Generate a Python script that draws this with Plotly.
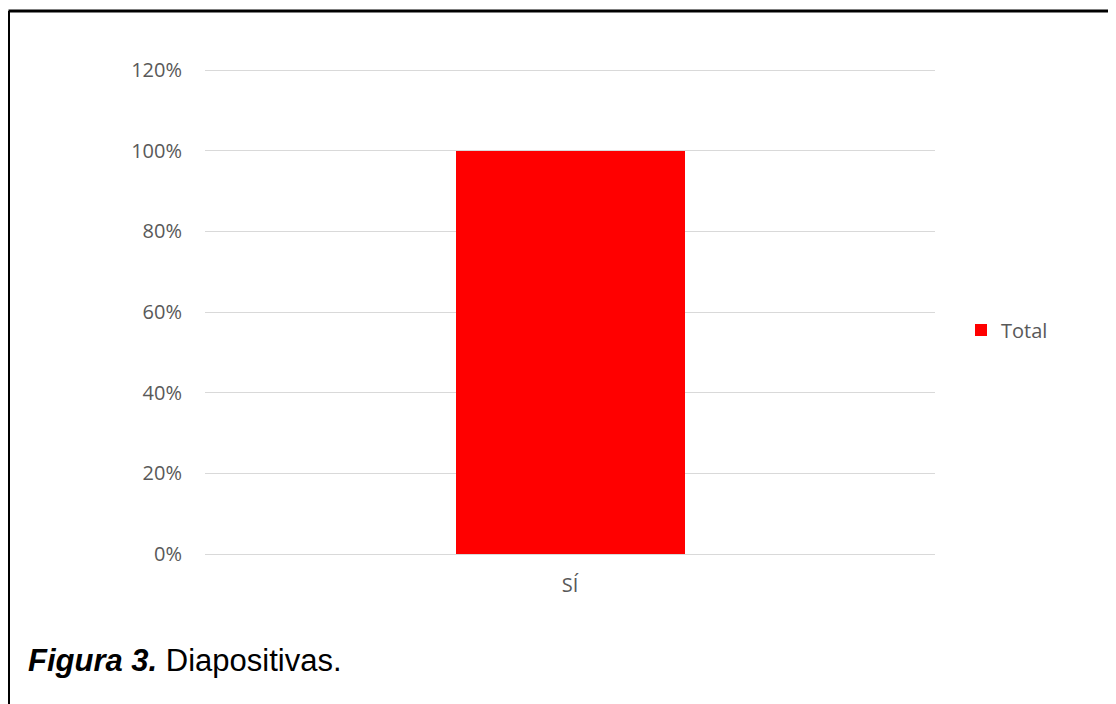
import plotly.graph_objects as go

categories = ["SÍ"]
values = [1.0]
series_name = "Total"
y_tickvals = [0, 0.2, 0.4, 0.6, 0.8, 1.0, 1.2]
y_ticktext = ["0%", "20%", "40%", "60%", "80%", "100%", "120%"]
caption_bold = "Figura 3."
caption_rest = " Diapositivas."

OFF = 8  # page body margin offset
W, H = 1116 - OFF, 704 - OFF
PAD = 3  # extra px so edge gridlines are drawn
L, R = 205 - OFF, 935 - OFF
T, B = 70 - OFF - PAD, 554 - OFF + PAD
pw, ph = R - L, B - T
unit = 1.2 / (484)  # data per px
ymin, ymax = -PAD * unit, 1.2 + PAD * unit

def px(x):
    return (x - OFF - L) / pw

def py(y):
    return (B - (y - OFF)) / ph

fig = go.Figure()
fig.add_trace(go.Bar(x=categories, y=values, name=series_name,
                     marker=dict(color="#FF0000", line=dict(width=0)),
                     width=229 / pw, showlegend=True))

font_main = "'Open Sans', sans-serif"
grey = "#595959"
fig.update_layout(
    width=W, height=H,
    margin=dict(l=L, r=W - R, t=T, b=H - B, autoexpand=False),
    paper_bgcolor="white", plot_bgcolor="white",
    font=dict(family=font_main, color=grey, size=20),
    xaxis=dict(type="category", showgrid=False, showline=False, zeroline=False,
               ticks="", ticklabelstandoff=14,
               tickfont=dict(size=20, color=grey)),
    yaxis=dict(range=[ymin, ymax], tickvals=y_tickvals, ticktext=y_ticktext,
               showgrid=True, gridcolor="#d9d9d9", gridwidth=1,
               zeroline=False, showline=False, ticks="", ticklabelstandoff=22,
               tickfont=dict(size=20, color=grey)),
    legend=dict(x=px(961), y=py(330), xanchor="left", yanchor="middle",
                font=dict(size=20, color=grey), bgcolor="rgba(0,0,0,0)"),
    bargap=0,
    showlegend=True,
)

# border lines (top and left)
fig.add_shape(type="line", xref="paper", yref="paper",
              x0=px(8.5), x1=px(1140), y0=py(11), y1=py(11),
              line=dict(color="black", width=3))
fig.add_shape(type="line", xref="paper", yref="paper",
              x0=px(8.5), x1=px(8.5), y0=py(11), y1=py(730),
              line=dict(color="black", width=3))

fig.add_annotation(xref="paper", yref="paper", x=px(26), y=py(660),
                   xanchor="left", yanchor="middle", showarrow=False,
                   text="<b><i>" + caption_bold + "</i></b>" + caption_rest,
                   font=dict(family="'Liberation Sans', Arial, sans-serif", size=31, color="black"))

fig.write_html("out.html")
